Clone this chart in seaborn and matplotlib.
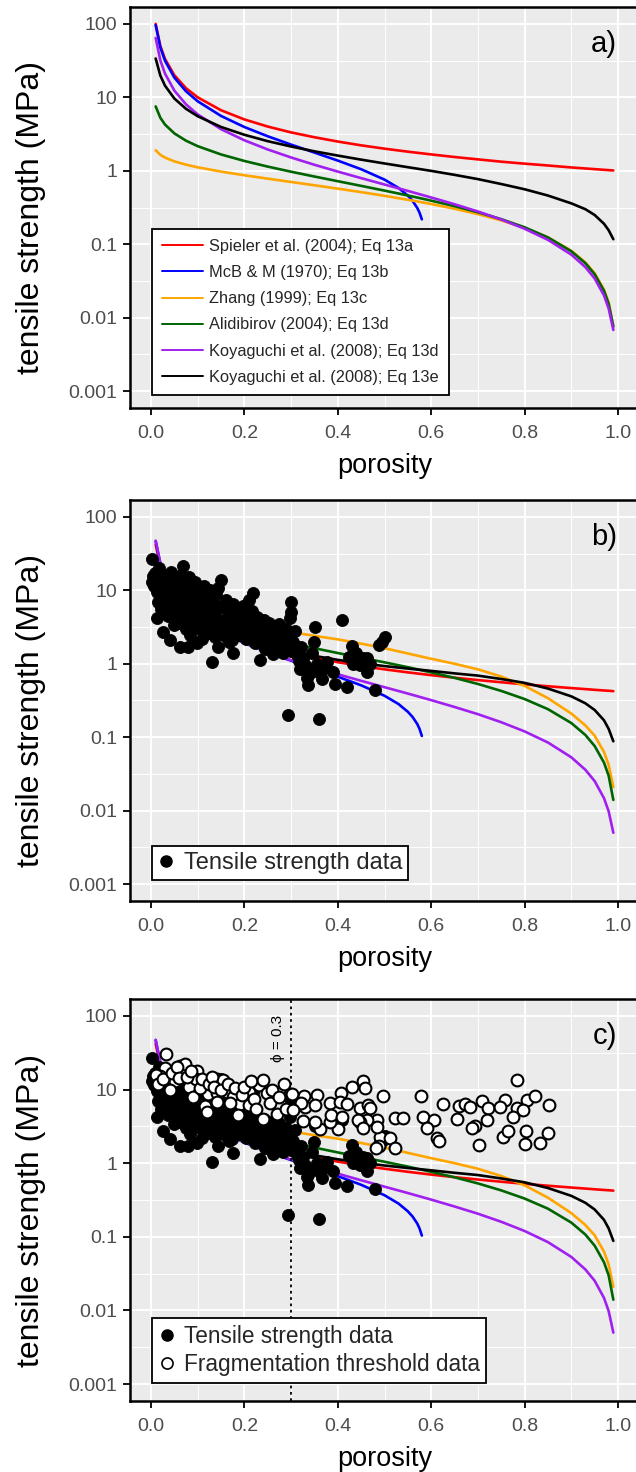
import numpy as np
import pandas as pd
import matplotlib
matplotlib.use("Agg")
import matplotlib.pyplot as plt
import seaborn as sns
from matplotlib.ticker import FixedLocator
from matplotlib.lines import Line2D

sns.set_theme(style="darkgrid")
plt.rcParams['font.family'] = ['Liberation Sans', 'DejaVu Sans']

# ---------------- data ----------------
PHI = [0.01, 0.02, 0.03, 0.05, 0.075, 0.1, 0.15, 0.2, 0.25, 0.3, 0.35, 0.4, 0.45,
       0.5, 0.55, 0.6, 0.65, 0.7, 0.75, 0.8, 0.85, 0.9, 0.93, 0.95, 0.97, 0.98, 0.99]
PHI_MCB = [0.01, 0.02, 0.03, 0.05, 0.075, 0.1, 0.15, 0.2, 0.25, 0.3, 0.35, 0.4,
           0.45, 0.5, 0.53, 0.55, 0.56, 0.57, 0.575, 0.58]

MODELS = ["Spieler et al. (2004); Eq 13a", "McB & M (1970); Eq 13b",
          "Zhang (1999); Eq 13c", "Alidibirov (2004); Eq 13d",
          "Koyaguchi et al. (2008); Eq 13d", "Koyaguchi et al. (2008); Eq 13e"]
COLORS = ["#FF0000", "#0000FF", "#FFA500", "#006400", "#A020F0", "#000000"]

# panel a
SPIELER_A = [100, 50, 33.3, 20, 13.3, 10, 6.67, 5, 4, 3.33, 2.86, 2.5, 2.22, 2, 1.82,
             1.67, 1.54, 1.43, 1.33, 1.25, 1.18, 1.11, 1.075, 1.053, 1.031, 1.02, 1.01]
MCB_A = [96.2, 47.7, 31.5, 18.56, 12.08, 8.84, 5.58, 3.94, 2.95, 2.27, 1.77, 1.376,
         1.05, 0.758, 0.584, 0.459, 0.391, 0.313, 0.269, 0.218]
ZHANG_A = [1.90, 1.649, 1.511, 1.343, 1.211, 1.115, 0.975, 0.869, 0.781, 0.704, 0.635,
           0.571, 0.512, 0.456, 0.403, 0.353, 0.304, 0.257, 0.211, 0.167, 0.124,
           0.0816, 0.0568, 0.0404, 0.0241, 0.0161, 0.0075]
ALID_A = [7.52, 5.27, 4.256, 3.229, 2.567, 2.163, 1.668, 1.36, 1.14, 0.971, 0.835,
          0.721, 0.623, 0.537, 0.461, 0.392, 0.33, 0.2725, 0.2194, 0.17, 0.1237,
          0.0801, 0.0552, 0.039, 0.0232, 0.0154, 0.0076]
KOY_D_A = [64.35, 31.85, 21.02, 12.35, 8.02, 5.85, 3.683, 2.6, 1.95, 1.517, 1.207,
           0.975, 0.794, 0.65, 0.532, 0.433, 0.35, 0.279, 0.217, 0.1625, 0.1147,
           0.0722, 0.0489, 0.0342, 0.0201, 0.0133, 0.0068]
KOY_E_A = [33.8, 19.8, 14.4, 9.64, 6.97, 5.53, 3.95, 3.09, 2.53, 2.14, 1.84, 1.61,
           1.418, 1.258, 1.119, 0.997, 0.88, 0.77, 0.66, 0.56, 0.46, 0.36, 0.30,
           0.25, 0.19, 0.155, 0.117]

# panels b and c
SPIELER_B = [42, 21, 14, 8.4, 5.6, 4.2, 2.8, 2.1, 1.68, 1.4, 1.2, 1.05, 0.933, 0.84,
             0.764, 0.7, 0.646, 0.6, 0.56, 0.525, 0.494, 0.467, 0.452, 0.442, 0.433,
             0.429, 0.424]
MCB_B = [46.6, 23.1, 15.26, 8.99, 5.85, 4.28, 2.70, 1.91, 1.43, 1.10, 0.858, 0.667,
         0.509, 0.367, 0.283, 0.222, 0.189, 0.152, 0.130, 0.104]
ZHANG_B = [6.0, 5.6, 5.3, 4.9, 4.5, 4.2, 3.7, 3.3, 3.0, 2.7, 2.4, 2.15, 1.88, 1.63,
           1.38, 1.17, 1.0, 0.84, 0.67, 0.50, 0.34, 0.21, 0.145, 0.105, 0.063, 0.042,
           0.021]
ALID_B = [14.6, 10.3, 8.29, 6.29, 5.0, 4.21, 3.25, 2.65, 2.22, 1.89, 1.63, 1.40, 1.21,
          1.046, 0.898, 0.763, 0.643, 0.531, 0.427, 0.331, 0.241, 0.156, 0.1075,
          0.0759, 0.0451, 0.0299, 0.0140]
KOY_D_B = [47.5, 23.5, 15.5, 9.12, 5.92, 4.32, 2.72, 1.92, 1.44, 1.12, 0.891, 0.72,
           0.586, 0.48, 0.393, 0.32, 0.258, 0.206, 0.160, 0.12, 0.0847, 0.0533,
           0.0361, 0.0253, 0.0148, 0.0098, 0.0050]
KOY_E_B = [20, 12.5, 9.3, 6.4, 4.7, 3.8, 2.8, 2.2, 1.8, 1.5, 1.28, 1.13, 1.02, 0.93,
           0.86, 0.80, 0.74, 0.69, 0.62, 0.55, 0.46, 0.36, 0.29, 0.235, 0.17, 0.13,
           0.088]

# tensile strength data (filled)
TS_PHI = [0.003, 0.004, 0.002, 0.006, 0.008, 0.01, 0.012, 0.012, 0.015, 0.016, 0.018,
          0.02, 0.022, 0.024, 0.026, 0.028, 0.03, 0.032, 0.034, 0.036, 0.038, 0.04,
          0.041, 0.042, 0.044, 0.046, 0.048, 0.05,
          0.052, 0.054, 0.056, 0.058, 0.06, 0.062, 0.063, 0.064, 0.066, 0.068, 0.07,
          0.072, 0.074, 0.076, 0.078, 0.08, 0.081, 0.082, 0.083, 0.085, 0.087, 0.089,
          0.09, 0.092, 0.094, 0.096, 0.098, 0.099,
          0.101, 0.103, 0.105, 0.107, 0.11, 0.112, 0.114, 0.117, 0.12, 0.122, 0.124,
          0.126, 0.128, 0.13, 0.132, 0.134, 0.136, 0.138, 0.14, 0.142, 0.144, 0.144,
          0.146, 0.149, 0.15,
          0.152, 0.155, 0.158, 0.16, 0.163, 0.166, 0.168, 0.17, 0.173, 0.175, 0.176,
          0.178, 0.18, 0.183, 0.186, 0.189, 0.192, 0.195, 0.198, 0.2,
          0.203, 0.206, 0.209, 0.21, 0.213, 0.216, 0.219, 0.22, 0.222, 0.225, 0.228,
          0.23, 0.233, 0.235, 0.238, 0.24, 0.243, 0.245, 0.247, 0.25,
          0.253, 0.256, 0.258, 0.26, 0.262, 0.264, 0.267, 0.27, 0.272, 0.275, 0.278,
          0.28, 0.283, 0.286, 0.29, 0.292, 0.294, 0.296, 0.298, 0.299, 0.3, 0.3,
          0.304, 0.308, 0.312, 0.316, 0.319, 0.322, 0.326, 0.33, 0.334, 0.337, 0.34,
          0.345, 0.348, 0.351, 0.355, 0.36, 0.362, 0.366, 0.37, 0.376, 0.39, 0.394,
          0.41, 0.419, 0.425, 0.43, 0.432, 0.44, 0.448, 0.455, 0.462, 0.462, 0.47,
          0.48, 0.488, 0.495, 0.5]
TS_VAL = [26.5, 15.5, 13, 11.5, 17, 14, 9.5, 4.2, 12, 7, 20,
          10, 5.5, 8.5, 2.7, 13, 6.5, 9, 16, 4.5, 7.5, 11,
          2.1, 18, 5.8, 8, 14, 3.4,
          10, 6.5, 4.8, 12.5, 8.5, 1.71, 3.6, 16, 5.5, 21.5, 9.5,
          7, 3.0, 12, 4.2, 1.71, 6.2, 15.4, 2.47, 8.5, 5, 10.5,
          3.5, 7.2, 13, 4.5, 1.9, 6,
          9, 5.2, 3.0, 7.5, 2.2, 4.2, 11.5, 6.2, 3.6, 8.2, 2.6,
          10, 5, 1.05, 3.2, 6.8, 4.2, 2.3, 8.8, 5.5, 10.8, 1.71,
          3.5, 13.9, 2.8,
          6, 4, 2.4, 7.5, 3.2, 5, 2.0, 3.8, 2.1, 6.6, 1.39,
          4.6, 2.8, 3.5, 5.5, 2.5, 4.0, 3.0, 6.2, 3.6,
          2.2, 4.5, 7.4, 3.1, 2.6, 5.2, 9.3, 3.8, 1.9, 2.9, 4.3,
          2.3, 1.13, 3.4, 2.0, 2.7, 4.0, 1.6, 3.0, 2.3,
          3.6, 1.8, 2.6, 3.2, 1.35, 2.1, 2.9, 1.6, 2.4, 3.5, 1.9,
          2.7, 1.4, 2.2, 3.0, 1.7, 0.2, 2.4, 4.2, 7.0, 1.5, 5.0,
          2.0, 2.8, 1.3, 1.1, 0.85, 1.7, 1.2, 0.95, 0.65, 0.51, 0.75,
          1.4, 1.95, 3.2, 1.0, 0.175, 0.75, 0.62, 0.9, 1.05, 0.78, 0.53,
          3.9, 0.49, 1.25, 1.77, 1.0, 1.4, 0.95, 1.2, 0.78, 1.19, 1.0,
          0.44, 1.8, 2.0, 2.34]

# fragmentation threshold data (open)
FT_PHI = [0.032, 0.03, 0.019, 0.062, 0.069, 0.073, 0.098, 0.051, 0.082, 0.096, 0.141,
          0.155, 0.121, 0.141, 0.162, 0.176, 0.142, 0.209, 0.232, 0.248, 0.191, 0.209,
          0.187, 0.269, 0.298,
          0.01, 0.015, 0.025, 0.04, 0.045, 0.055, 0.06, 0.078, 0.085, 0.09, 0.105,
          0.11, 0.115, 0.125, 0.13, 0.135, 0.15, 0.165, 0.17, 0.18, 0.195, 0.2, 0.215,
          0.22, 0.225, 0.24, 0.255, 0.26, 0.275, 0.285, 0.29, 0.24, 0.12,
          0.783, 0.43, 0.455, 0.458, 0.406, 0.497, 0.355, 0.327, 0.301, 0.578, 0.626,
          0.659, 0.672, 0.708, 0.759, 0.806, 0.822, 0.853, 0.683, 0.721, 0.747, 0.784,
          0.797, 0.776, 0.655, 0.719, 0.694, 0.687, 0.583, 0.605, 0.59, 0.612, 0.616,
          0.702, 0.753, 0.765, 0.802, 0.801, 0.833, 0.851, 0.522, 0.54, 0.483, 0.462,
          0.447, 0.49, 0.512, 0.488, 0.522, 0.482, 0.401, 0.362, 0.33, 0.351, 0.383,
          0.404, 0.419, 0.447, 0.465, 0.469, 0.444, 0.455, 0.326, 0.351, 0.383, 0.386,
          0.41, 0.322, 0.305, 0.483]
FT_VAL = [30, 19.5, 15.5, 21, 19.8, 22, 17.6, 12.9, 11, 13.8, 13.8,
          13.5, 8.7, 9, 9.3, 7.9, 6.8, 9.4, 11.6, 9, 6.3, 6.1,
          4.5, 4.6, 8.6,
          16, 12, 14, 10, 17, 20, 14.5, 15, 18, 8, 10.5,
          14, 6, 12, 15, 11, 10, 12, 6.5, 10.5, 8.5, 11, 13,
          7.5, 5.5, 13.5, 6.5, 10, 8, 12, 5.5, 4.0, 5.0,
          13.5, 10.7, 12.9, 10.6, 9.1, 8.2, 8.5, 8.2, 8.8, 8.2, 6.4,
          6.0, 6.4, 7.0, 7.2, 7.2, 8.3, 6.1, 5.8, 5.6, 5.8, 5.6,
          5.2, 4.2, 4.0, 3.9, 3.2, 3.0, 4.3, 3.9, 3.0, 2.2, 2.0,
          1.77, 2.3, 2.7, 2.7, 1.8, 1.9, 2.6, 4.1, 4.1, 3.8, 3.8,
          3.6, 2.3, 2.2, 1.7, 1.6, 1.6, 2.9, 2.9, 5.8, 6.2, 6.6,
          6.8, 6.3, 5.6, 6.1, 5.6, 3.8, 3.0, 3.7, 3.6, 3.6, 4.5,
          4.3, 6.6, 5.3, 3.1]

Y_TICKS = [0.001, 0.01, 0.1, 1, 10, 100]
Y_TICK_LABELS = ["0.001", "0.01", "0.1", "1", "10", "100"]
X_TICKS = [0.0, 0.2, 0.4, 0.6, 0.8, 1.0]
X_TICK_LABELS = ["0.0", "0.2", "0.4", "0.6", "0.8", "1.0"]


def curve_frame(values):
    rows = []
    for name, vals in zip(MODELS, values):
        xs = PHI_MCB if "McB" in name else PHI
        for x, v in zip(xs, vals):
            rows.append((name, x, v))
    return pd.DataFrame(rows, columns=["model", "porosity", "strength"])


curves_a = curve_frame([SPIELER_A, MCB_A, ZHANG_A, ALID_A, KOY_D_A, KOY_E_A])
curves_b = curve_frame([SPIELER_B, MCB_B, ZHANG_B, ALID_B, KOY_D_B, KOY_E_B])
ts = pd.DataFrame({"porosity": TS_PHI, "strength": TS_VAL})
ft = pd.DataFrame({"porosity": FT_PHI, "strength": FT_VAL})
palette = dict(zip(MODELS, COLORS))

W, H = 636, 1472
fig = plt.figure(figsize=(W / 100, H / 100), dpi=100)
fig.patch.set_facecolor("white")

left_px, right_px = 130, 640
panels_px = [(7, 408), (500, 901), (999, 1401)]
X0 = (left_px - 151) / 467
X1 = (right_px - 151) / 467
YLIM = (10 ** -3.23, 10 ** 2.23)

axes = []
for top, bot in panels_px:
    ax = fig.add_axes([left_px / W, 1 - bot / H, (right_px - left_px) / W, (bot - top) / H])
    axes.append(ax)

for i, ax in enumerate(axes):
    ax.set_facecolor("#EBEBEB")
    ax.set_yscale("log")
    data = curves_a if i == 0 else curves_b
    sns.lineplot(data=data, x="porosity", y="strength", hue="model", palette=palette,
                 hue_order=MODELS, estimator=None, linewidth=1.9, legend=False, ax=ax)
    if i >= 1:
        sns.scatterplot(data=ts, x="porosity", y="strength", color="black", s=75,
                        edgecolor="black", linewidth=0.6, ax=ax, zorder=5)
    if i == 2:
        sns.scatterplot(data=ft, x="porosity", y="strength", color="white", s=72,
                        edgecolor="black", linewidth=1.5, ax=ax, zorder=6)
        ax.axvline(0.3, color="black", linestyle=(0, (1.5, 2)), linewidth=1.3, zorder=4)
        ax.text(0.272, 50, "\u03d5 = 0.3", rotation=90, ha="center", va="center",
                fontsize=11, color="black")

    ax.set_xlim(X0, X1)
    ax.set_ylim(*YLIM)
    ax.yaxis.set_major_locator(FixedLocator(Y_TICKS))
    ax.yaxis.set_minor_locator(FixedLocator([10 ** (k + 0.5) for k in range(-4, 2)]))
    ax.set_yticklabels(Y_TICK_LABELS)
    ax.xaxis.set_major_locator(FixedLocator(X_TICKS))
    ax.xaxis.set_minor_locator(FixedLocator([0.1, 0.3, 0.5, 0.7, 0.9]))
    ax.set_xticklabels(X_TICK_LABELS)
    ax.grid(which="major", color="white", linewidth=1.4)
    ax.grid(which="minor", color="white", linewidth=0.7)
    ax.set_axisbelow(True)
    ax.tick_params(which="major", direction="out", length=5, width=1.3, color="black",
                   labelsize=14, labelcolor="#4D4D4D", pad=4, left=True, bottom=True)
    ax.tick_params(axis="x", which="major", pad=7.5)
    ax.tick_params(which="minor", length=0)
    for s in ax.spines.values():
        s.set_color("black")
        s.set_linewidth(1.8)
    ax.set_xlabel("porosity", fontsize=19.5, color="black", labelpad=8)
    ax.set_ylabel("tensile strength (MPa)", fontsize=23, color="black")
    ax.yaxis.set_label_coords(-0.165, 0.475)
    ax.text(0.998, 53, "abc"[i] + ")", ha="right", va="center", fontsize=21,
            color="black")

# legends
handles_a = [Line2D([0], [0], color=c, lw=1.4) for c in COLORS]
leg = axes[0].legend(handles_a, MODELS, loc="upper left", bbox_to_anchor=(0.043, 0.446),
                     borderaxespad=0, fontsize=11.8, frameon=True, fancybox=False,
                     edgecolor="black", facecolor="white", framealpha=1,
                     handlelength=2.5, handletextpad=0.4, labelspacing=0.68,
                     borderpad=0.6)
leg.get_frame().set_linewidth(1.3)

h_ts = Line2D([0], [0], marker="o", color="none", markerfacecolor="black",
              markeredgecolor="black", markersize=8)
h_ft = Line2D([0], [0], marker="o", color="none", markerfacecolor="white",
              markeredgecolor="black", markeredgewidth=1.2, markersize=8)
leg = axes[1].legend([h_ts], ["Tensile strength data"], loc="upper left",
                     bbox_to_anchor=(0.043, 0.137), borderaxespad=0, fontsize=17,
                     frameon=True, fancybox=False, edgecolor="black", facecolor="white",
                     framealpha=1, handlelength=0.7, handletextpad=0.4, borderpad=0.25)
leg.get_frame().set_linewidth(1.3)
leg = axes[2].legend([h_ts, h_ft], ["Tensile strength data", "Fragmentation threshold data"],
                     loc="upper left", bbox_to_anchor=(0.043, 0.207), borderaxespad=0,
                     fontsize=16.3, frameon=True, fancybox=False, edgecolor="black",
                     facecolor="white", framealpha=1, handlelength=0.7,
                     handletextpad=0.4, borderpad=0.3, labelspacing=0.25)
leg.get_frame().set_linewidth(1.3)

fig.savefig("out.png", dpi=100)
